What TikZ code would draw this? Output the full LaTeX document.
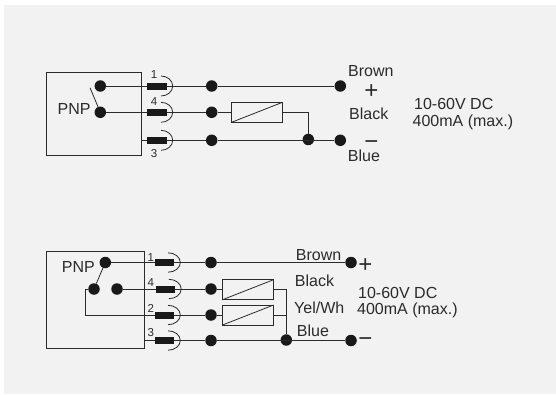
\documentclass[tikz,border=0pt]{standalone}
\usepackage{fontspec}
\setmainfont{Liberation Sans}
\definecolor{panelgray}{HTML}{F2F2F2}
\definecolor{inkgray}{HTML}{2B2B2B}
\tikzset{
  wdot/.style={circle,fill=black!90,inner sep=0pt,minimum size=11.5pt},
  pinbar/.style={rectangle,fill=black!90,inner sep=0pt,minimum height=7pt},
  sensorbox/.style={draw=inkgray,line width=.8pt,inner sep=0pt,outer sep=0pt},
  coil/.style={draw=inkgray,line width=.8pt,inner sep=0pt,outer sep=0pt,minimum width=51pt,minimum height=20pt},
  lbl/.style={anchor=base west,inner sep=0pt,text=inkgray,font=\fontsize{16}{16}\selectfont},
  pinno/.style={anchor=base,inner sep=0pt,text=inkgray,font=\fontsize{11.5}{11.5}\selectfont},
  sign/.style={inner sep=0pt,text height=0pt,text depth=0pt,text=inkgray,font=\fontsize{24}{24}\selectfont},
  wire/.style={draw=inkgray,line width=.8pt},
}
\begin{document}
\begin{tikzpicture}[x=1pt,y=-1pt]
\useasboundingbox (0,0) rectangle (556,394);
\fill [panelgray] (4,5) rectangle (556,394);

% upper circuit
\node (tbox) [sensorbox,minimum width=94.6pt,minimum height=82.6pt] at (94,114) {};
\node (tpnp) [lbl] at (57.5,114) {PNP};
\node (ta) [wdot] at (100.3,86) {};
\node (tb) [wdot] at (100.3,112.3) {};
\coordinate (tsw) at (90,87.7);
\draw [wire] (tsw) -- (tb);
\node (tp1) [pinbar,minimum width=20pt] at (156.7,86) {};
\node (tp4) [pinbar,minimum width=20pt] at (156.7,112.3) {};
\node (tp3) [pinbar,minimum width=20pt] at (156.7,140.3) {};
\foreach \p in {tp1,tp4,tp3}
  \draw [wire] ([xshift=4.3pt,yshift=10pt]\p.center) arc [start angle=90,end angle=-90,x radius=11.7pt,y radius=10pt];
\node (tn1) [pinno] at (154,78.3) {1};
\node (tn4) [pinno] at (154,105) {4};
\node (tn3) [pinno] at (154,157) {3};
\node (tm1) [wdot] at (211.7,86) {};
\node (tm4) [wdot] at (211.7,112.3) {};
\node (tm3) [wdot] at (211.7,140.3) {};
\node (tr) [coil] at (257,112.3) {};
\draw [wire] (tr.south west) -- (tr.north east);
\node (tj) [wdot] at (308.3,139.5) {};
\node (tplus) [wdot] at (340.3,86) {};
\node (tminus) [wdot] at (340.3,140.3) {};
\draw [wire] (ta) -- (tp1) -- (tm1) -- (tplus);
\draw [wire] (tb) -- (tp4) -- (tm4) -- (tr);
\draw [wire] (tp3 -| tbox.east) -- (tp3) -- (tm3) -- (tminus);
\draw [wire] (tr) -| (tj);
\node (tbrown) [lbl] at (348,76.7) {Brown};
\node (tps) [sign] at (371.3,98.7) {+};
\node (tblack) [lbl] at (349,119.3) {Black};
\node (tms) [sign] at (371.3,149) {\textminus};
\node (tblue) [lbl] at (347.7,161.7) {Blue};
\node (tv) [lbl] at (414,109) {10-60V DC};
\node (tc) [lbl] at (412.5,126) {400mA (max.)};

% lower circuit
\node (bbox) [sensorbox,minimum width=98pt,minimum height=97.7pt] at (95.7,299.85) {};
\node (bpnp) [lbl] at (61.7,272.7) {PNP};
\node (ba) [wdot] at (105.3,262.5) {};
\node (bb) [wdot] at (94,289) {};
\node (bc) [wdot] at (117,289) {};
\draw [wire] (ba) -- (bb);
\node (bp1) [pinbar,minimum width=19.3pt] at (164.6,262.5) {};
\node (bp4) [pinbar,minimum width=19.3pt] at (165.5,289) {};
\node (bp2) [pinbar,minimum width=19.3pt] at (164.6,315) {};
\node (bp3) [pinbar,minimum width=19.3pt] at (164.6,340.5) {};
\foreach \p in {bp1,bp4,bp2,bp3}
  \draw [wire] ([xshift=3.4pt,yshift=9.7pt]\p.center) arc [start angle=90,end angle=-90,x radius=12.3pt,y radius=9.7pt];
\node (bn1) [pinno] at (150.7,261) {1};
\node (bn4) [pinno] at (150.7,286.7) {4};
\node (bn2) [pinno] at (150.7,312.3) {2};
\node (bn3) [pinno] at (150.7,336.7) {3};
\node (bm1) [wdot] at (211,262.5) {};
\node (bm4) [wdot] at (211,289) {};
\node (bm2) [wdot] at (211,315) {};
\node (bm3) [wdot] at (211,340.5) {};
\node (br1) [coil] at (247.8,289.8) {};
\node (br2) [coil] at (247.8,315.1) {};
\draw [wire] (br1.south west) -- (br1.north east);
\draw [wire] (br2.south west) -- (br2.north east);
\node (bj) [wdot] at (286.3,340) {};
\node (bplus) [wdot] at (351,262.5) {};
\node (bminus) [wdot] at (351,340.5) {};
\coordinate (bturn) at (85.7,315);
\draw [wire] (ba) -- (bp1) -- (bm1) -- (bplus);
\draw [wire] (bc) -- (bp4) -- (bm4) -- (br1.west |- bm4);
\draw [wire] (bb) -| (bturn) -- (bp2) -- (bm2) -- (br2.west |- bm2);
\draw [wire] (bp3 -| bbox.east) -- (bp3) -- (bm3) -- (bminus);
\draw [wire] (br1.east |- bm4) -| (bj);
\draw [wire] (br2.east |- bm2) -- (bj |- bm2);
\node (bbrown) [lbl] at (295.7,260) {Brown};
\node (bps) [sign] at (365.3,272) {+};
\node (bblack) [lbl] at (294.7,286.7) {Black};
\node (byel) [lbl] at (294,313.7) {Yel/Wh};
\node (bblue) [lbl] at (296.7,336) {Blue};
\node (bms) [sign] at (365.3,346.5) {\textminus};
\node (bv) [lbl] at (358,298) {10-60V DC};
\node (bc2) [lbl] at (357,314.3) {400mA (max.)};
\end{tikzpicture}
\end{document}
